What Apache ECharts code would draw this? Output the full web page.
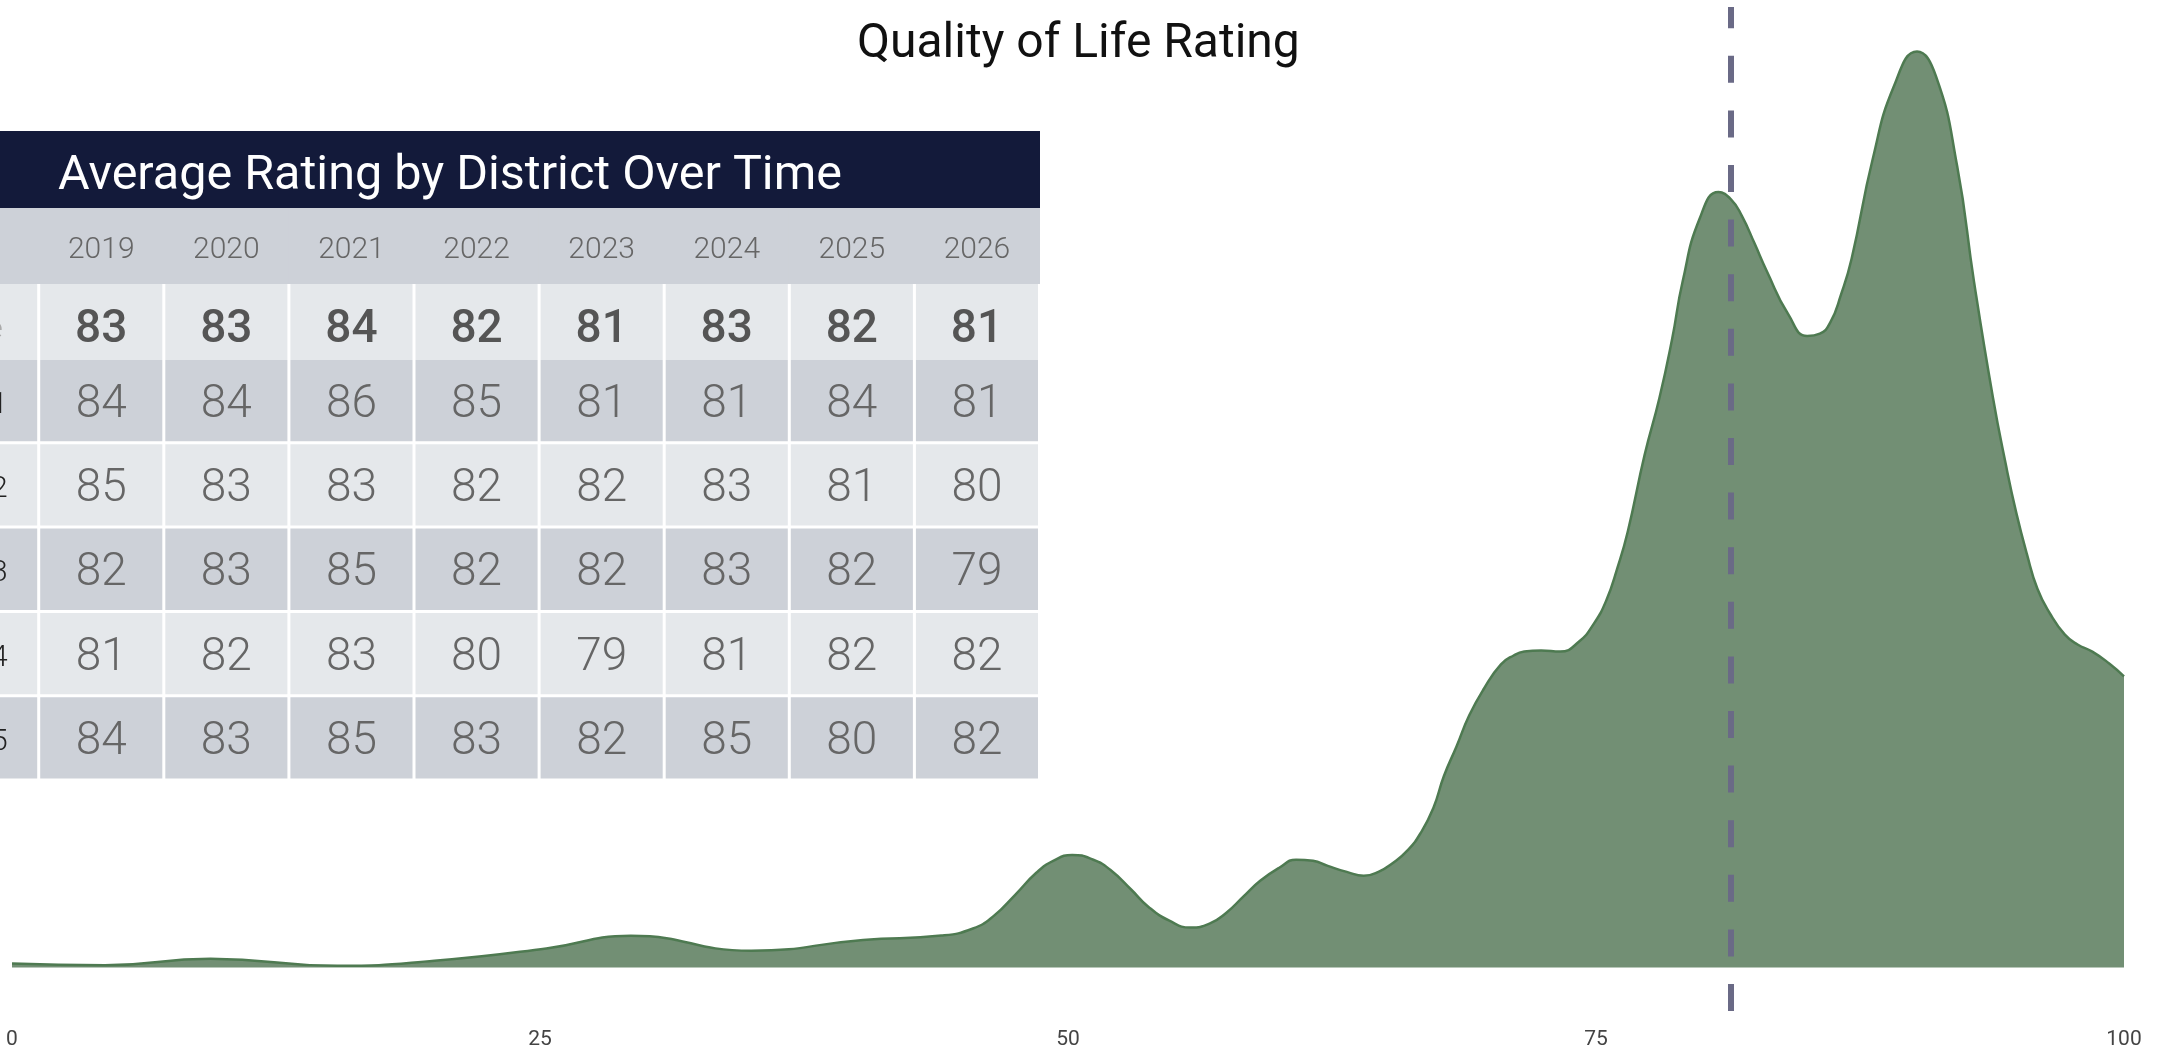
<!DOCTYPE html>
<html>
<head>
<meta charset="utf-8">
<title>Quality of Life Rating</title>
<script src="https://cdn.jsdelivr.net/npm/echarts@6/dist/echarts.min.js"></script>
<style>
    html, body { margin: 0; padding: 0; background: #fff; }
    #chart { width: 2165px; height: 1050px; }
</style>
</head>
<body>
<div id="chart"></div>
<script>
// density of individual ratings
var ratingX = [0, 4.4, 9.4, 15.4, 20, 25.3, 29.3, 35, 40.3, 44, 45.5, 46.5, 47.5, 48.5, 49.3, 50.2, 51.2, 52,
    53, 53.8, 54.8, 55.8, 56.7, 57.5, 58.3, 59.1, 60, 60.8, 61.6, 62.3, 63.2, 64, 64.7, 65.4, 66.1, 66.7, 67.3,
    67.8, 68.4, 69, 69.7, 70.5, 71.1, 71.6, 72.4, 73.3, 74.2, 74.9, 75.5, 76, 76.5, 77.3, 78, 78.6, 79.1, 79.9,
    80.8, 81.4, 81.9, 82.5, 83.1, 84.1, 85, 85.6, 86.1, 86.6, 87.1, 88.1, 89.1, 90.2, 91.1, 92.1, 92.9, 93.8,
    94.4, 94.9, 95.4, 95.9, 96.5, 97.2, 97.8, 98.5, 99.3, 100];
var density = [0.017, 0.010, 0.038, 0.007, 0.029, 0.083, 0.138, 0.073, 0.120, 0.139, 0.170, 0.226, 0.317, 0.413,
    0.465, 0.491, 0.470, 0.426, 0.339, 0.265, 0.204, 0.174, 0.191, 0.239, 0.309, 0.378, 0.435, 0.470, 0.465,
    0.443, 0.417, 0.400, 0.417, 0.457, 0.513, 0.587, 0.696, 0.835, 0.965, 1.100, 1.217, 1.322, 1.361, 1.378,
    1.383, 1.378, 1.422, 1.500, 1.604, 1.739, 1.900, 2.235, 2.483, 2.739, 2.991, 3.265, 3.383, 3.350, 3.280,
    3.160, 3.035, 2.850, 2.755, 2.765, 2.815, 2.935, 3.091, 3.526, 3.843, 3.996, 3.887, 3.496, 2.991, 2.483,
    2.196, 1.983, 1.804, 1.652, 1.543, 1.452, 1.409, 1.378, 1.326, 1.270];
var meanRating = 81.4;
var xTicks = [0, 25, 50, 75, 100];

// table: average rating by district over time
var years = ['2019', '2020', '2021', '2022', '2023', '2024', '2025', '2026'];
var rowNames = ['Average', 'District 1', 'District 2', 'District 3', 'District 4', 'District 5'];
var avgByYear = [83, 83, 84, 82, 81, 83, 82, 81];
var district1 = [84, 84, 86, 85, 81, 81, 84, 81];
var district2 = [85, 83, 83, 82, 82, 83, 81, 80];
var district3 = [82, 83, 85, 82, 82, 83, 82, 79];
var district4 = [81, 82, 83, 80, 79, 81, 82, 82];
var district5 = [84, 83, 85, 83, 82, 85, 80, 82];
var districts = [district1, district2, district3, district4, district5];

var FONT = 'Roboto';
var LIGHT = '#e5e8eb', DARK = '#cdd1d8';

var densityData = ratingX.map(function(x, i) { return [x, density[i]]; });

// table columns sit on a value axis: column k spans [k-1, k], the name column is -1..0
// cells of the top block (year header + average row)
var topCells = [], topTexts = [];
for (var c = 0; c <= years.length; c++) {
    topCells.push([c - 0.5, 0, c]);
    topTexts.push(c === 0 ? '' : years[c - 1]);
}
for (var c = 0; c <= years.length; c++) {
    topCells.push([c - 0.5, 1, c]);
    topTexts.push(c === 0 ? rowNames[0] : String(avgByYear[c - 1]));
}
// cells of the district rows
var distCells = [], distTexts = [];
districts.forEach(function(vals, r) {
    for (var c = 0; c <= years.length; c++) {
        distCells.push([c - 0.5, r, c]);
        distTexts.push(c === 0 ? rowNames[r + 1] : String(vals[c - 1]));
    }
});

function cellText(txt, col, cx, cy, w, font) {
    if (col === 0) {
        return {type: 'text', style: {text: txt, x: cx + w / 2 - font.labelPad, y: cy, align: 'right',
            verticalAlign: 'middle', fontFamily: FONT, fontSize: font.labelSize, fontWeight: 300,
            fill: font.labelColor}};
    }
    return {type: 'text', style: {text: txt, x: cx, y: cy, align: 'center', verticalAlign: 'middle',
        fontFamily: FONT, fontSize: font.size, fontWeight: font.weight, fill: font.color}};
}

function renderTop(params, api) {
    var col = api.value(2), row = api.value(1);
    var p = api.coord([api.value(0), row]);
    var s = api.size([1, 1]);
    var txt = topTexts[params.dataIndex];
    var rect, font;
    if (row === 0) {
        rect = {x: p[0] - s[0] / 2 - 0.5, y: p[1] - s[1] / 2, width: s[0] + 1, height: s[1]};
        font = {size: 30, weight: 300, color: '#666', labelColor: '#999', labelSize: 30, labelPad: 31};
        return {type: 'group', children: [
            {type: 'rect', shape: rect, style: {fill: DARK}},
            cellText(txt, col, p[0], p[1] + 4, s[0], font)
        ]};
    }
    rect = {x: p[0] - s[0] / 2 + 1.5, y: p[1] - s[1] / 2, width: s[0] - 3, height: s[1]};
    font = {size: 46, weight: 500, color: '#555', labelColor: '#aaa', labelSize: 30, labelPad: 36};
    return {type: 'group', children: [
        {type: 'rect', shape: rect, style: {fill: LIGHT}},
        cellText(txt, col, p[0], p[1] + 8, s[0], font)
    ]};
}

function renderDistrict(params, api) {
    var col = api.value(2), row = api.value(1);
    var p = api.coord([api.value(0), row]);
    var s = api.size([1, 1]);
    var txt = distTexts[params.dataIndex];
    var rect = {x: p[0] - s[0] / 2 + 1.5, y: p[1] - s[1] / 2, width: s[0] - 3, height: s[1] - 3};
    var font = {size: 46, weight: 300, color: '#666', labelColor: '#222', labelSize: 30, labelPad: 31};
    return {type: 'group', children: [
        {type: 'rect', shape: rect, style: {fill: row % 2 === 0 ? DARK : LIGHT}},
        cellText(txt, col, p[0], p[1] + 3, s[0], font)
    ]};
}

var chart = echarts.init(document.getElementById('chart'));
var option = {
    animation: false,
    backgroundColor: '#fff',
    title: {
        text: 'Quality of Life Rating',
        left: 857,
        top: 21,
        padding: 0,
        textStyle: {fontFamily: FONT, fontSize: 48, fontWeight: 400, color: '#111'}
    },
    graphic: [
        {type: 'rect', shape: {x: 0, y: 131, width: 1040, height: 77}, style: {fill: '#131a3a'}, z: 10},
        {type: 'text', x: 58, y: 177, z: 11,
            style: {text: 'Average Rating by District Over Time', fill: '#fff', fontFamily: FONT, fontSize: 48.5,
                fontWeight: 400, verticalAlign: 'middle'}}
    ],
    grid: [
        {left: 12, right: 41, top: 7, bottom: 33},
        {left: 0, width: 1039.5, top: 208, height: 152},
        {left: 0, width: 1039.5, top: 360, height: 421.5}
    ],
    xAxis: [
        {type: 'value', gridIndex: 0, min: xTicks[0], max: xTicks[xTicks.length - 1], interval: xTicks[1] - xTicks[0],
            axisLine: {show: false}, axisTick: {show: false}, splitLine: {show: false},
            axisLabel: {margin: 18, fontFamily: FONT, fontSize: 21, fontWeight: 400, color: '#444'}},
        {type: 'value', gridIndex: 1, min: -0.3094, max: years.length, show: false, splitLine: {show: false}},
        {type: 'value', gridIndex: 2, min: -0.3094, max: years.length, show: false, splitLine: {show: false}}
    ],
    yAxis: [
        {type: 'value', gridIndex: 0, min: -0.19, max: 4.19, show: false, splitLine: {show: false}},
        {type: 'category', gridIndex: 1, data: ['Year', rowNames[0]], inverse: true, show: false},
        {type: 'category', gridIndex: 2, data: rowNames.slice(1), inverse: true, show: false}
    ],
    series: [
        {
            type: 'line',
            xAxisIndex: 0, yAxisIndex: 0,
            data: densityData,
            smooth: 0.5,
            symbol: 'none',
            lineStyle: {color: '#4e7a51', width: 2.5},
            areaStyle: {color: '#728f74', opacity: 1},
            markLine: {
                silent: true,
                symbol: 'none',
                label: {show: false},
                lineStyle: {color: '#6a6a86', width: 6, type: [27, 27.6]},
                data: [{xAxis: meanRating}]
            },
            z: 2
        },
        {
            type: 'custom',
            xAxisIndex: 1, yAxisIndex: 1,
            data: topCells,
            renderItem: renderTop,
            clip: false,
            silent: true,
            z: 5
        },
        {
            type: 'custom',
            xAxisIndex: 2, yAxisIndex: 2,
            data: distCells,
            renderItem: renderDistrict,
            clip: false,
            silent: true,
            z: 5
        }
    ]
};
chart.setOption(option);
</script>
</body>
</html>
